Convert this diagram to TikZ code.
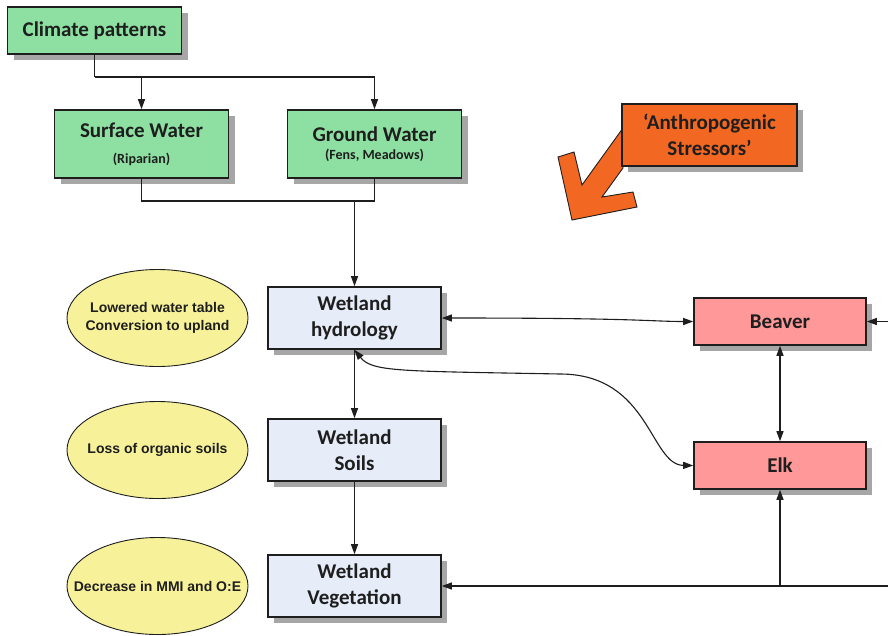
\documentclass[tikz,border=0pt]{standalone}
\usepackage{fontspec}
\setmainfont{Carlito}
\newfontfamily\arialfont{Liberation Sans}
\usetikzlibrary{arrows.meta,shadows,shapes.geometric}
\definecolor{boxgreen}{HTML}{8DE0A1}
\definecolor{boxblue}{HTML}{E6EDF8}
\definecolor{boxpink}{HTML}{FF9999}
\definecolor{boxorange}{HTML}{F26722}
\definecolor{ovalyellow}{HTML}{F7F29A}
\definecolor{inkdark}{HTML}{1E1E1E}
\tikzset{
  shade box/.style={drop shadow={shadow xshift=6pt,shadow yshift=-6pt,fill=black!35,opacity=1}},
  box/.style={draw=inkdark,line width=1.6pt,align=center,text=inkdark,shade box,
    font=\fontsize{21}{26}\bfseries\selectfont},
  greenbox/.style={box,fill=boxgreen,minimum width=174pt},
  bluebox/.style={box,fill=boxblue,minimum width=173pt,minimum height=62pt},
  pinkbox/.style={box,fill=boxpink,minimum width=172pt,minimum height=47pt},
  oval/.style={ellipse,draw=inkdark,line width=0.9pt,fill=ovalyellow,text=inkdark,align=center,
    minimum width=181pt,minimum height=97pt,inner sep=0pt,
    font=\arialfont\fontsize{14}{17.5}\bfseries\selectfont},
  link/.style={draw=inkdark,line width=1.1pt},
  arr/.style={link,-{Triangle[length=10pt,width=7pt]}},
  biarr/.style={link,{Triangle[length=10pt,width=7pt]}-{Triangle[length=10pt,width=7pt]}}
}
\newcommand\subline[1]{{\fontsize{14}{16}\selectfont #1}}
\newcommand\ovalline[1]{\makebox[0pt]{#1}}
\begin{document}
\begin{tikzpicture}[x=1pt,y=-1pt]
\useasboundingbox (0,0) rectangle (888,635);
\node[greenbox,minimum height=47pt] (climate) at (94.5,30.5) {Climate patterns};
\node[greenbox,minimum height=68pt] (surface) at (141.5,144) {Surface Water\\[0pt]\subline{(Riparian)}};
\node[greenbox,minimum height=68pt] (ground) at (374.5,144) {Ground Water\\[-8pt]\subline{(Fens, Meadows)}};
\node[bluebox] (hydro) at (354.5,318) {Wetland\\hydrology};
\node[bluebox] (soils) at (354.5,450) {Wetland\\Soils};
\node[bluebox] (veg) at (354.5,586) {Wetland\\Vegetation};
\node[oval] (lowered) at (157.5,318) {\ovalline{Lowered water table}\\\ovalline{Conversion to upland}};
\node[oval] (organic) at (157.5,450) {\ovalline{Loss of organic soils}};
\node[oval] (mmi) at (157.5,586) {\ovalline{Decrease in MMI and O:E}};
\node[pinkbox] (beaver) at (780,321.5) {Beaver};
\node[pinkbox] (elk) at (780,465.5) {Elk};
\draw[draw=inkdark,line width=0.9pt,fill=boxorange] (623,128) -- (582,185) -- (574,152) -- (558,157)
  -- (572,220) -- (637,207) -- (633,192) -- (602,197) -- (623,168) -- cycle;
\node[box,fill=boxorange,minimum width=175pt,minimum height=62pt] (stress) at (709.5,135) {`Anthropogenic\\Stressors'};
\coordinate (split) at (94.5,77);
\coordinate (join) at (354.5,201);
\coordinate (beaverin) at (888,321.5);
\coordinate (veggin) at (888,586);
\draw[link] (climate.south) -- (split);
\draw[arr] (split) -| (surface.north);
\draw[arr] (split) -| (ground.north);
\draw[link] (surface.south) |- (join);
\draw[link] (ground.south) |- (join);
\draw[arr] (join) -- (hydro.north);
\draw[arr] (hydro) -- (soils);
\draw[arr] (soils) -- (veg);
\draw[biarr] (hydro.east) .. controls (640,318) and (650,321.5) .. (beaver.west);
\draw[arr] (beaverin) -- (beaver.east);
\draw[biarr] (beaver) -- (elk);
\draw[biarr] (hydro.south) .. controls (372,372) and (400,371) .. (560,374)
  .. controls (650,374) and (650,465) .. (elk.west);
\draw[arr] (veggin) -- (veg.east);
\draw[arr] (elk.south |- veggin) -- (elk.south);
\end{tikzpicture}
\end{document}
